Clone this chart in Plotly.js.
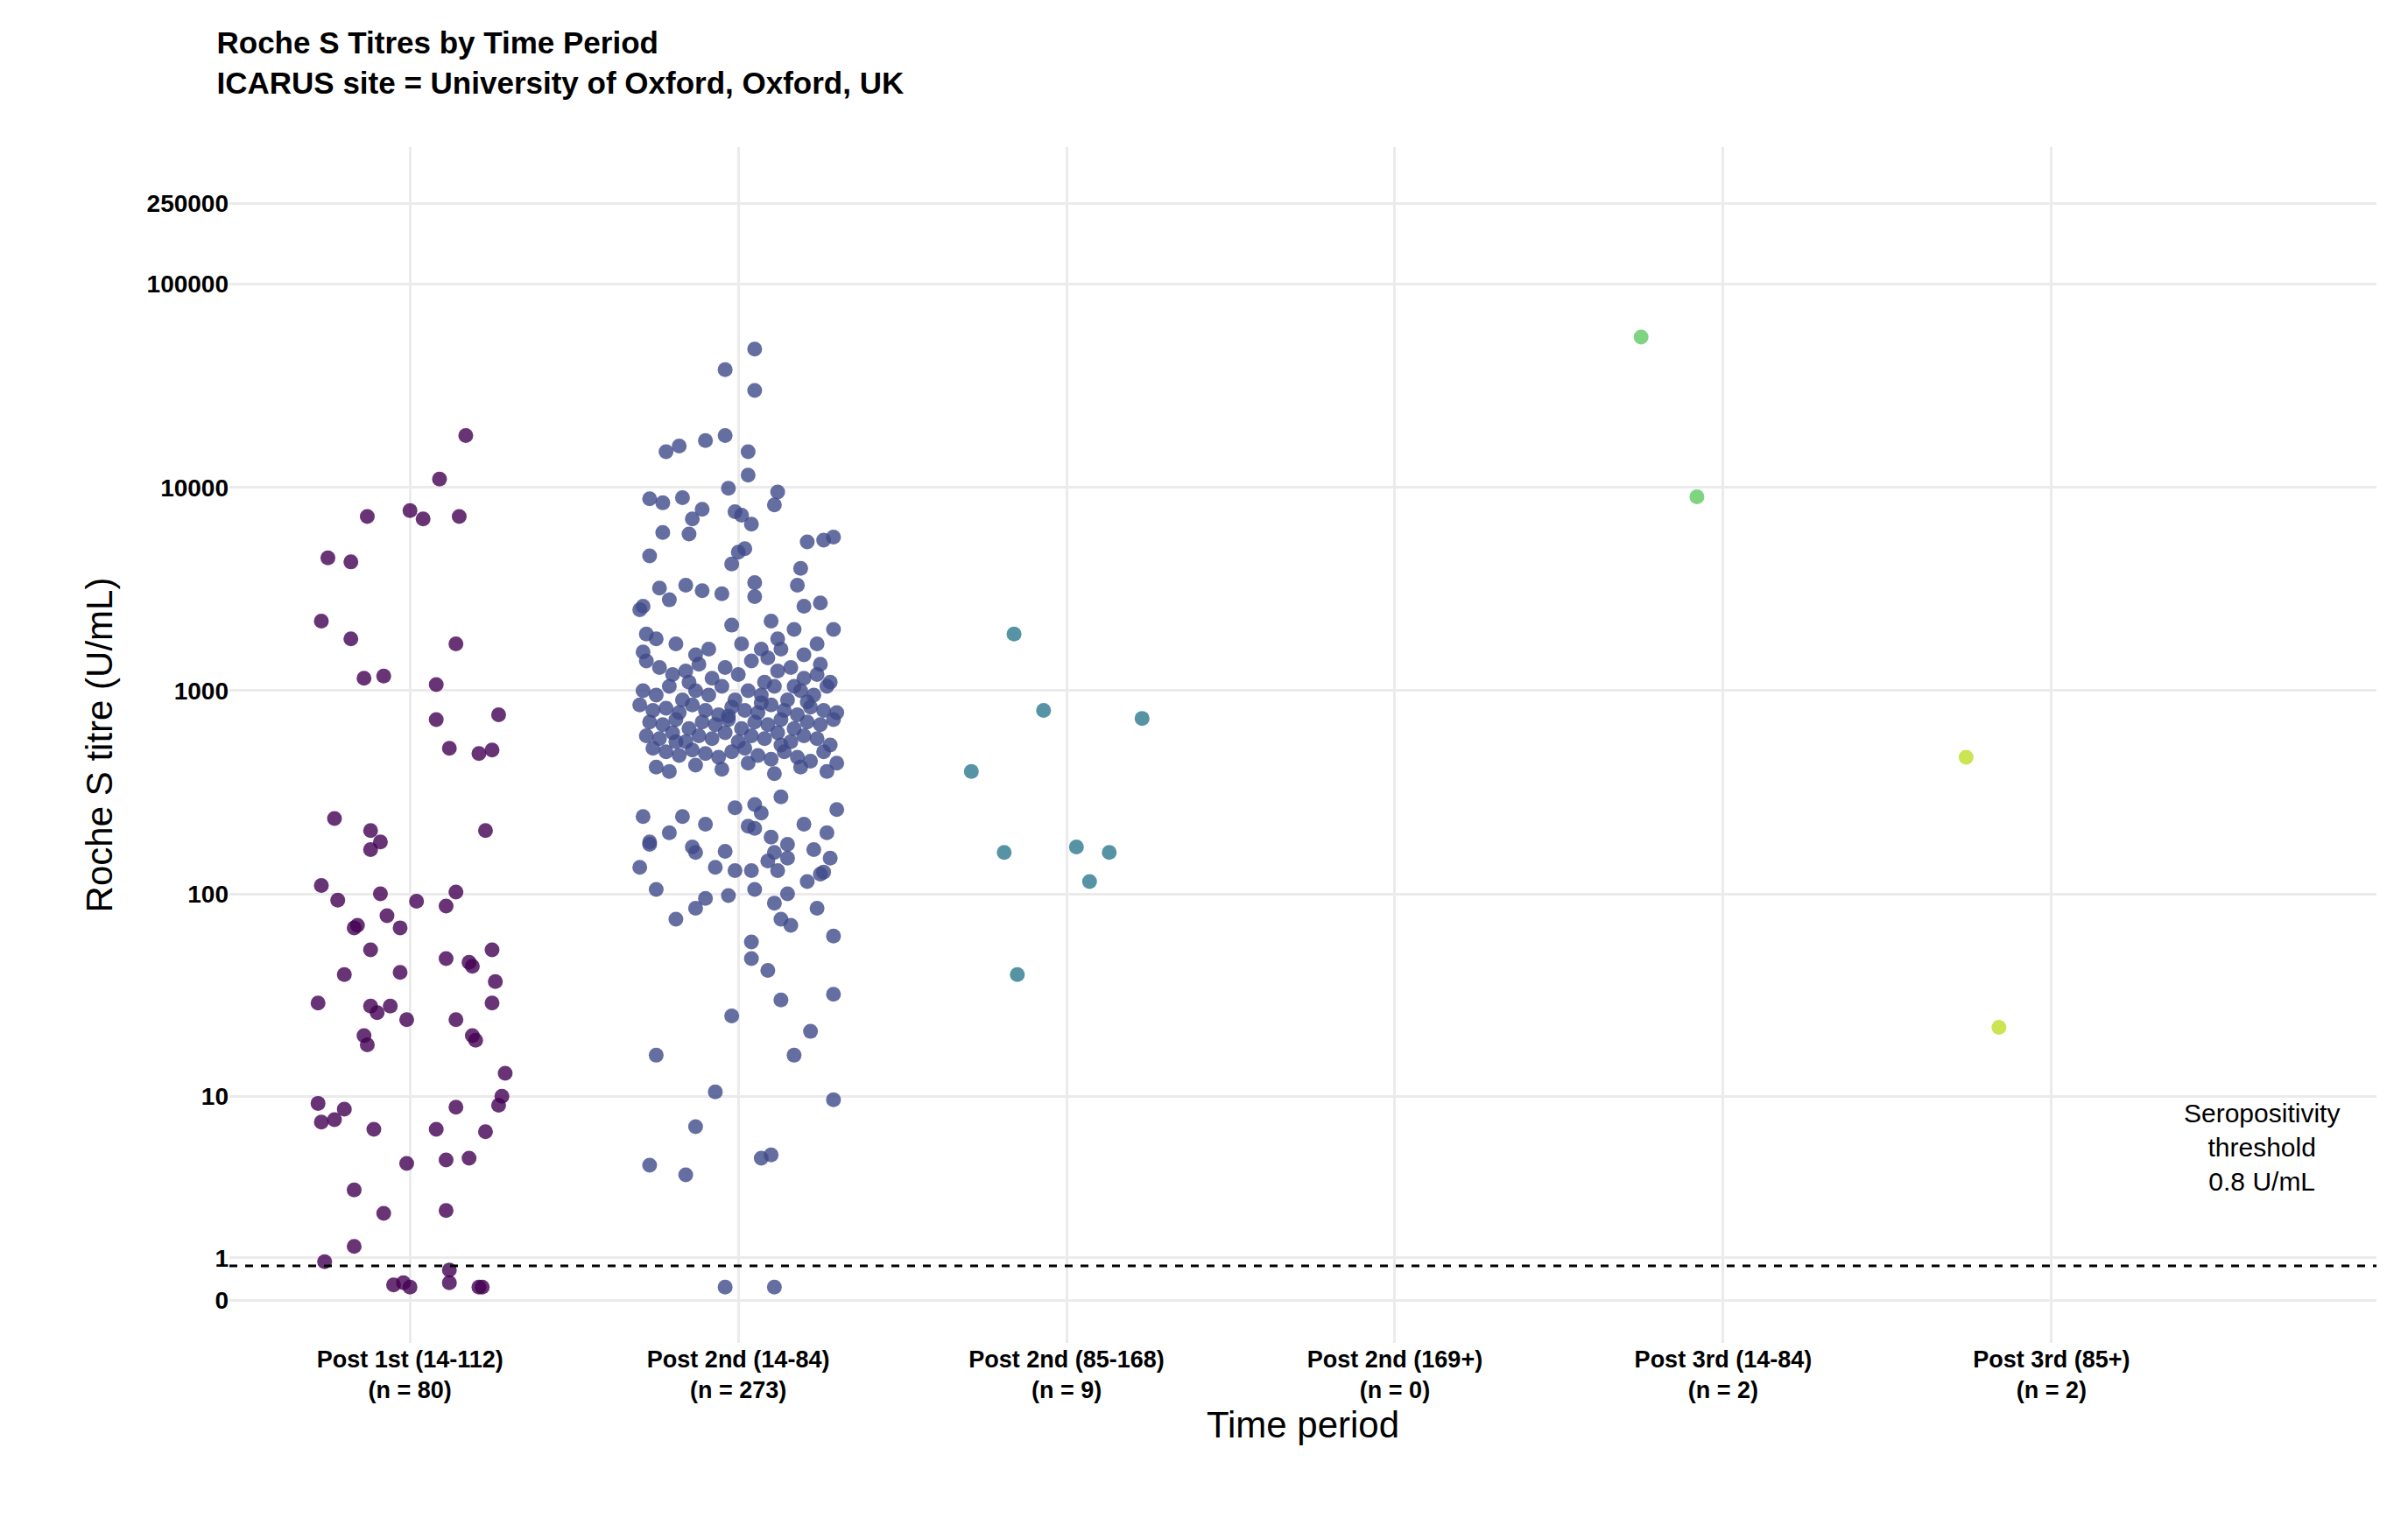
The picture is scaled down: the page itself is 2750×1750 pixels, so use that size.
<!DOCTYPE html>
<html>
<head>
<meta charset="utf-8">
<script src="https://cdn.plot.ly/plotly-3.0.1.min.js"></script>
<style>body{margin:0;background:#fff}#chart{width:2750px;height:1750px}</style>
</head>
<body>
<div id="chart"></div>
<script>
// categories and labels
const periods = ['Post 1st (14-112)', 'Post 2nd (14-84)', 'Post 2nd (85-168)', 'Post 2nd (169+)', 'Post 3rd (14-84)', 'Post 3rd (85+)'];
const counts = [80, 273, 9, 0, 2, 2];
const colors = ['#440154', '#3e4a89', '#2a788e', '#22a884', '#5ec962', '#bddf26'];
const tickVals = [0, 1, 10, 100, 1000, 10000, 100000, 250000];

// titres (U/mL) and horizontal jitter (hundredths of a category) per period
const post1Vals = [18000, 11000, 7200, 7700, 7000, 7200, 4500, 4300, 2200, 1800, 1700, 1150, 1180, 1070, 720, 760, 520, 490, 510, 235, 205, 205, 165, 180, 110, 102, 100, 92, 93, 78, 70, 68, 68, 53, 87, 53, 40, 41, 48, 46, 44, 37, 29, 28, 28, 26, 29, 24, 24, 20, 18, 20, 19, 13, 10, 9.2, 9, 8.8, 8.6, 7.6, 7.4, 6.8, 6.8, 6.6, 4.5, 4.8, 4.7, 3.2, 2.3, 2.4, 1.3, 0.9, 0.35, 0.4, 0.3, 0.4, 0.7, 0.3, 0.3];
const post1Jit = [17, 9, -13, 0, 4, 15, -25, -18, -27, -18, 14, -14, -8, 8, 8, 27, 12, 21, 25, -23, -12, 23, -12, -9, -27, 14, -9, 2, -22, -7, -16, -17, -3, -12, 11, 25, -20, -3, 11, 18, 19, 26, -28, -12, -6, -10, 25, 14, -1, -14, -13, 19, 20, 29, 28, -28, 27, 14, -20, -23, -27, -11, 8, 23, -1, 18, 11, -17, -8, 11, -17, -26, -5, -2, 0, 12, 12, 22, 21];

const post2aVals = [48000, 38000, 30000, 18000, 17000, 16000, 15000, 15000, 11500, 9500, 8900, 8800, 8400, 9900, 7800, 8200, 7300, 7600, 6600, 7000, 6000, 5500, 5700, 5400, 4800, 5000, 5900, 4600, 4200, 4000, 3300, 3400, 3200, 3300, 3100, 3000, 2600, 2700, 2600, 2500, 2800, 2900, 2200, 2000, 2000, 2100, 1800, 1900, 1800, 1700, 1500, 1600, 1600, 1500, 1700,
  1400, 1300, 1200, 1250, 1350, 1150, 1300, 1200, 1400, 1100, 1250, 1300, 1150, 1200, 1100,
  1000, 950, 1050, 900, 1000, 950, 1050, 900, 1000, 950, 1050, 900, 1000, 950, 1050,
  850, 800, 820, 780, 850, 800, 760, 830, 800, 780, 850, 800, 760, 830, 800, 780,
  700, 680, 720, 650, 700, 680, 720, 650, 700, 680, 720, 650, 700, 680, 720,
  600, 580, 620, 560, 600, 580, 620, 560, 600, 580, 620, 560, 600, 580, 540,
  520, 500, 480, 510, 490, 470, 500, 520, 480, 460, 500, 470, 450, 500, 440,
  420, 400, 430, 410, 440, 390, 420, 400,
  1550, 1600, 1700, 1450, 1350, 1100, 1050, 750, 870, 880, 560, 540,
  240, 240, 265, 275, 250, 300, 260, 220, 220, 215, 210, 190, 175, 165, 200, 200, 180, 175, 170, 162, 160, 160, 145, 150, 150, 135, 105, 135, 130, 130, 130, 125, 128, 105, 98, 95, 100, 115, 75, 85, 90, 75, 70, 85, 58, 48, 42, 62, 30, 32, 25, 16, 21, 16, 10.5, 7, 4.4, 3.9, 4.8, 5, 9.6, 0.3, 0.3];
const post2aJit = [5, -4, 5, -4, -10, -18, -22, 3, 3, 12, -17, -27, -23, -3, -11, 11, 1, -1, 4, -14, -23, 26, 29, 21, 0, 2, -15, -27, -2, 19, 18, 5, -24, -16, -11, -5, 20, 25, -29, -30, -21, 5, 10, 17, 29, -2, 12, -28, -25, -19, -13, 7, 13, 20, 24,
  -28, -24, -20, -16, -12, -8, -4, 0, 4, 8, 12, 16, 20, 24, 28,
  -29, -25, -21, -17, -13, -9, -5, -1, 3, 7, 11, 15, 19, 23, 27,
  -30, -26, -22, -18, -14, -10, -6, -2, 2, 6, 10, 14, 18, 22, 26, 30,
  -27, -23, -19, -15, -11, -7, -3, 1, 5, 9, 13, 17, 21, 25, 29,
  -28, -24, -20, -16, -12, -8, -4, 0, 4, 8, 12, 16, 20, 24, 28,
  -26, -22, -18, -14, -10, -6, -2, 2, 6, 10, 14, 18, 22, 26, 30,
  -25, -21, -13, -5, 3, 11, 19, 27,
  -29, -9, 1, 9, 25, -15, 17, -3, 7, 21, -19, 13,
  -29, -17, -1, 5, 7, 13, 30, 20, -10, 3, 5, 10, 15, 23, 27, -21, -27, -27, -14, -4, 11, -13, 9, 15, 28, -30, -25, -7, -1, 4, 12, 25, 26, 5, -3, -10, 15, 21, -19, -13, 11, 13, 16, 24, 4, 4, 9, 29, 13, 29, -2, 17, 22, -25, -7, -13, -27, -16, 7, 10, 29, -4, 11];

const post2bVals = [400, 1900, 800, 160, 40, 170, 115, 160, 730];
const post2bJit = [-29, -16, -7, -19, -15, 3, 7, 13, 23];
const post2cVals = [];
const post2cJit = [];
const post3aVals = [55000, 9000];
const post3aJit = [-25, -8];
const post3bVals = [470, 22];
const post3bJit = [-26, -16];

const threshold = 0.8;

// pseudo-log scale (sigma = 1, base 10)
const pl = v => Math.asinh(v / 2) / Math.LN10;

const groups = [
  [post1Vals, post1Jit], [post2aVals, post2aJit], [post2bVals, post2bJit],
  [post2cVals, post2cJit], [post3aVals, post3aJit], [post3bVals, post3bJit]
];

const traces = groups.map((g, i) => ({
  x: g[1].map(j => i + j / 100),
  y: g[0].map(pl),
  customdata: g[0],
  type: 'scatter',
  mode: 'markers',
  name: periods[i],
  marker: { color: colors[i], size: 17, opacity: 0.8 },
  hovertemplate: '%{customdata} U/mL<extra></extra>',
  showlegend: false
}));

const font = 'Liberation Sans, Arial, sans-serif';

const layout = {
  width: 2750,
  height: 1750,
  paper_bgcolor: '#fff',
  plot_bgcolor: '#fff',
  margin: { l: 262, r: 36, t: 168, b: 216 },
  title: {
    text: '<b>Roche S Titres by Time Period<br>ICARUS site = University of Oxford, Oxford, UK</b>',
    font: { family: font, size: 35, color: '#000' },
    x: 0.09, xanchor: 'left', xref: 'container',
    y: 0.965, yanchor: 'top', yref: 'container'
  },
  xaxis: {
    range: [-0.55, 5.99],
    tickvals: periods.map((p, i) => i),
    ticktext: periods.map((p, i) => '<b>' + p + '<br>(n = ' + counts[i] + ')</b>'),
    tickfont: { family: font, size: 27, color: '#000' },
    showgrid: true, gridcolor: '#ebebeb', gridwidth: 3,
    zeroline: false, showline: false, ticks: '',
    title: { text: 'Time period', font: { family: font, size: 42, color: '#000' }, standoff: 10 }
  },
  yaxis: {
    range: [-0.21, 5.675],
    tickvals: tickVals.map(pl),
    ticktext: tickVals.map(v => '<b>' + v + '</b>'),
    tickfont: { family: font, size: 28, color: '#000' },
    showgrid: true, gridcolor: '#ebebeb', gridwidth: 3,
    zeroline: false, showline: false, ticks: '',
    title: { text: 'Roche S titre (U/mL)', font: { family: font, size: 42, color: '#000' }, standoff: 25 }
  },
  shapes: [{
    type: 'line', xref: 'paper', x0: 0, x1: 1, yref: 'y', y0: pl(threshold), y1: pl(threshold),
    line: { color: '#000', width: 3, dash: 'dash' }
  }],
  annotations: [{
    x: 5.64, y: pl(5.5), xref: 'x', yref: 'y',
    text: 'Seropositivity<br>threshold<br>0.8 U/mL',
    showarrow: false, align: 'center',
    font: { family: font, size: 30, color: '#000' }
  }]
};

Plotly.newPlot('chart', traces, layout, { displayModeBar: false });
</script>
</body>
</html>
